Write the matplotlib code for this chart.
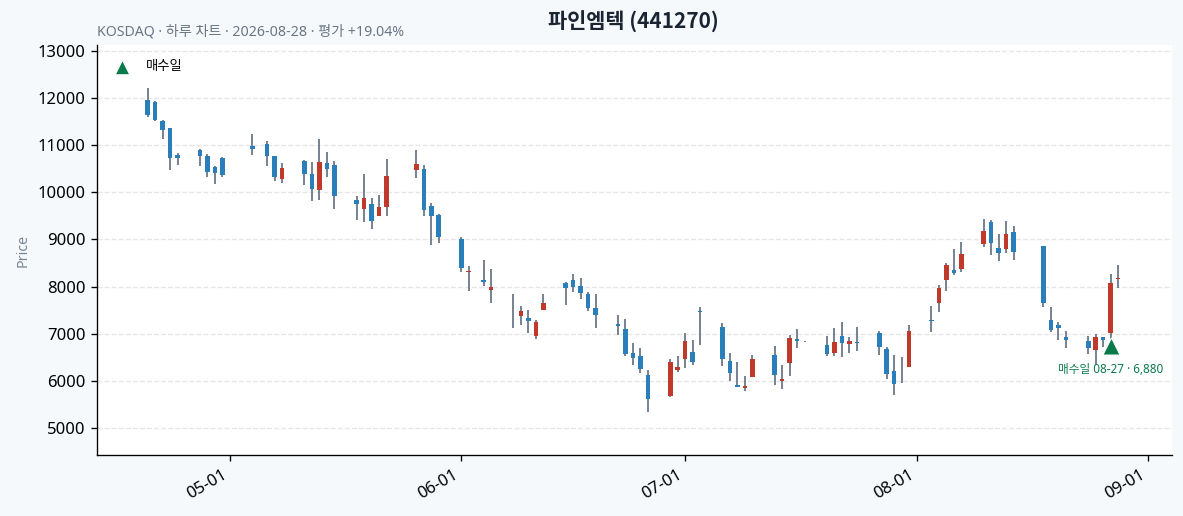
import matplotlib
matplotlib.use('Agg')
import matplotlib.pyplot as plt
import matplotlib.dates as mdates
import pandas as pd

plt.rcParams['font.family'] = ['Noto Sans', 'Noto Sans CJK KR', 'DejaVu Sans']

TITLE = "파인엠텍 (441270)"
SUBTITLE = "KOSDAQ · 하루 차트 · 2026-08-28 · 평가 +19.04%"

dates = [
    "2026-04-20", "2026-04-21", "2026-04-22", "2026-04-23", "2026-04-24",
    "2026-04-27", "2026-04-28", "2026-04-29", "2026-04-30",
    "2026-05-04", "2026-05-06", "2026-05-07", "2026-05-08",
    "2026-05-11", "2026-05-12", "2026-05-13", "2026-05-14", "2026-05-15",
    "2026-05-18", "2026-05-19", "2026-05-20", "2026-05-21", "2026-05-22",
    "2026-05-26", "2026-05-27", "2026-05-28", "2026-05-29",
    "2026-06-01", "2026-06-02", "2026-06-04", "2026-06-05",
    "2026-06-08", "2026-06-09", "2026-06-10", "2026-06-11", "2026-06-12",
    "2026-06-15", "2026-06-16", "2026-06-17", "2026-06-18", "2026-06-19",
    "2026-06-22", "2026-06-23", "2026-06-24", "2026-06-25", "2026-06-26",
    "2026-06-29", "2026-06-30", "2026-07-01", "2026-07-02", "2026-07-03",
    "2026-07-06", "2026-07-07", "2026-07-08", "2026-07-09", "2026-07-10",
    "2026-07-13", "2026-07-14", "2026-07-15", "2026-07-16", "2026-07-17",
    "2026-07-20", "2026-07-21", "2026-07-22", "2026-07-23", "2026-07-24",
    "2026-07-27", "2026-07-28", "2026-07-29", "2026-07-30", "2026-07-31",
    "2026-08-03", "2026-08-04", "2026-08-05", "2026-08-06", "2026-08-07",
    "2026-08-10", "2026-08-11", "2026-08-12", "2026-08-13", "2026-08-14",
    "2026-08-18", "2026-08-19", "2026-08-20", "2026-08-21",
    "2026-08-24", "2026-08-25", "2026-08-26", "2026-08-27", "2026-08-28",
]

opens = [
    11957, 11920, 11518, 11362, 10787,
    10894, 10766, 10539, 10723,
    10993, 11021, 10773, 10284,
    10660, 10383, 10057, 10617, 10575,
    9830, 9645, 9759, 9497, 9688,
    10475, 10504, 9716, 9511,
    9000, 8310, 8142, 7929,
    7240, 7369, 7340, 6943, 7496,
    8085, 8149, 8021, 7851, 7546,
    7213, 7106, 6596, 6532, 6120,
    5681, 6241, 6454, 6617, 7470,
    7149, 6426, 5908, 5851, 6092,
    6553, 6007, 6369, 6894, 6840,
    6766, 6582, 6957, 6773, 6830,
    7021, 6674, 6213, 5950, 6284,
    7280, 7646, 8135, 8362, 8369,
    8901, 9362, 8809, 8794, 9149,
    8858, 7298, 7192, 6922,
    6851, 6653, 6936, 7007, 8170,
]

highs = [
    12206, 11940, 11530, 11370, 10844,
    10915, 10823, 10550, 10759,
    11248, 11085, 10780, 10631,
    10695, 10653, 11142, 10865, 10674,
    9915, 10397, 9887, 9943, 10716,
    10908, 10589, 9773, 9546,
    9050, 8433, 8567, 8376,
    7844, 7588, 7503, 7298, 7844,
    8106, 8276, 8184, 7893, 7844,
    7397, 7312, 6801, 6695, 6227,
    6461, 6525, 7014, 6865, 7575,
    7227, 6596, 6404, 6099, 6546,
    6738, 6341, 6972, 7106, 6850,
    6950, 7121, 7248, 6936, 7149,
    7050, 6723, 6546, 6504, 7192,
    7589, 8036, 8511, 8802, 8951,
    9426, 9404, 9121, 9390, 9277,
    8858, 7560, 7241, 7057,
    6951, 6993, 6936, 8277, 8461,
]

lows = [
    11603, 11511, 11121, 10482, 10589,
    10567, 10333, 10184, 10326,
    10801, 10567, 10241, 10199,
    10163, 9809, 9830, 10333, 9653,
    9419, 9362, 9213, 9490, 9504,
    10312, 9504, 8887, 8929,
    8305, 7901, 8014, 7659,
    7120, 7184, 7014, 6886, 7496,
    7610, 7886, 7737, 7482, 7120,
    6971, 6532, 6333, 6177, 5333,
    5653, 6192, 6270, 6341, 6766,
    6312, 6000, 5880, 5787, 6092,
    5908, 5823, 6099, 6695, 6835,
    6518, 6525, 6504, 6589, 6638,
    6546, 6035, 5695, 5950, 6284,
    7029, 7468, 7915, 8248, 8319,
    8830, 8681, 8546, 8717, 8560,
    7560, 7029, 6872, 6702,
    6568, 6334, 6709, 6880, 7972,
]

closes = [
    11638, 11530, 11333, 10731, 10738,
    10773, 10433, 10411, 10362,
    10922, 10773, 10326, 10518,
    10397, 10071, 10653, 10497, 9922,
    9752, 9887, 9390, 9695, 10355,
    10596, 9631, 9497, 9050,
    8390, 8330, 8092, 8000,
    7250, 7489, 7262, 7255, 7659,
    7964, 7986, 7858, 7539, 7390,
    7156, 6560, 6475, 6262, 5624,
    6404, 6298, 6851, 6390, 7460,
    6454, 6177, 5880, 5887, 6468,
    6135, 6043, 6915, 6837, 6845,
    6560, 6830, 6794, 6851, 6794,
    6709, 6156, 5929, 5955, 7064,
    7270, 7972, 8468, 8284, 8702,
    9170, 8929, 8709, 9107, 8731,
    7646, 7071, 7121, 6872,
    6688, 6922, 6872, 8080, 8190,
]

buy_date = "2026-08-27"
buy_price = 6880

UP = '#c0392b'
DOWN = '#2a7fba'
WICK = '#6e7b8b'
GREEN = '#0b7a4b'

df = pd.DataFrame({'date': pd.to_datetime(dates), 'open': opens, 'high': highs,
                   'low': lows, 'close': closes})

fig = plt.figure(figsize=(1183 / 120, 516 / 120), dpi=120)
fig.patch.set_facecolor('#f5f9fc')
ax = fig.add_axes([0.082, 0.118, 0.9086, 0.795])
ax.set_facecolor('white')

x = mdates.date2num(df['date'])
w = 0.62
for xi, o, h, l, c in zip(x, df['open'], df['high'], df['low'], df['close']):
    ax.vlines(xi, l, h, color=WICK, linewidth=1.1, zorder=2)
    color = UP if c >= o else DOWN
    bottom = min(o, c)
    height = max(abs(c - o), 12)
    ax.bar(xi, height, width=w, bottom=bottom, color=color, zorder=3, linewidth=0)

bx = mdates.date2num(pd.Timestamp(buy_date))
by = buy_price * 0.98
ax.scatter([bx], [by], marker='^', s=105, color=GREEN, edgecolors='white', linewidths=0.6,
           zorder=5, label='매수일')
ax.annotate(f"매수일 {buy_date[5:]} · {buy_price:,}", (bx, by), xytext=(0, -10),
            textcoords='offset points', ha='center', va='top', fontsize=7, color=GREEN)

ax.set_xlim(mdates.date2num(pd.Timestamp("2026-04-13 05:00")),
            mdates.date2num(pd.Timestamp("2026-09-04 05:00")))
ax.set_ylim(4425, 13128)
ax.set_yticks(range(5000, 13001, 1000))
ax.xaxis.set_major_locator(mdates.MonthLocator())
ax.xaxis.set_major_formatter(mdates.DateFormatter('%m-%d'))
plt.setp(ax.get_xticklabels(), rotation=30, ha='right')
ax.tick_params(labelsize=10)

ax.grid(axis='y', linestyle='--', color='#e6e6e6', linewidth=0.8)
ax.set_axisbelow(True)
for s in ['top', 'right']:
    ax.spines[s].set_visible(False)

ax.set_ylabel('Price', color='#7a8594', fontsize=8.5)
ax.legend(loc='upper left', bbox_to_anchor=(0.0, 0.992), frameon=False, fontsize=8,
          markerscale=0.85)

fig.text(0.535, 0.957, TITLE, ha='center', va='center', fontsize=12.5, fontweight='bold',
         color='#1a2433', family=['Noto Sans CJK KR'])
fig.text(0.082, 0.938, SUBTITLE, ha='left', va='center', fontsize=8.5, color='#6b7785')

fig.savefig('out.png', dpi=120, facecolor=fig.get_facecolor())
